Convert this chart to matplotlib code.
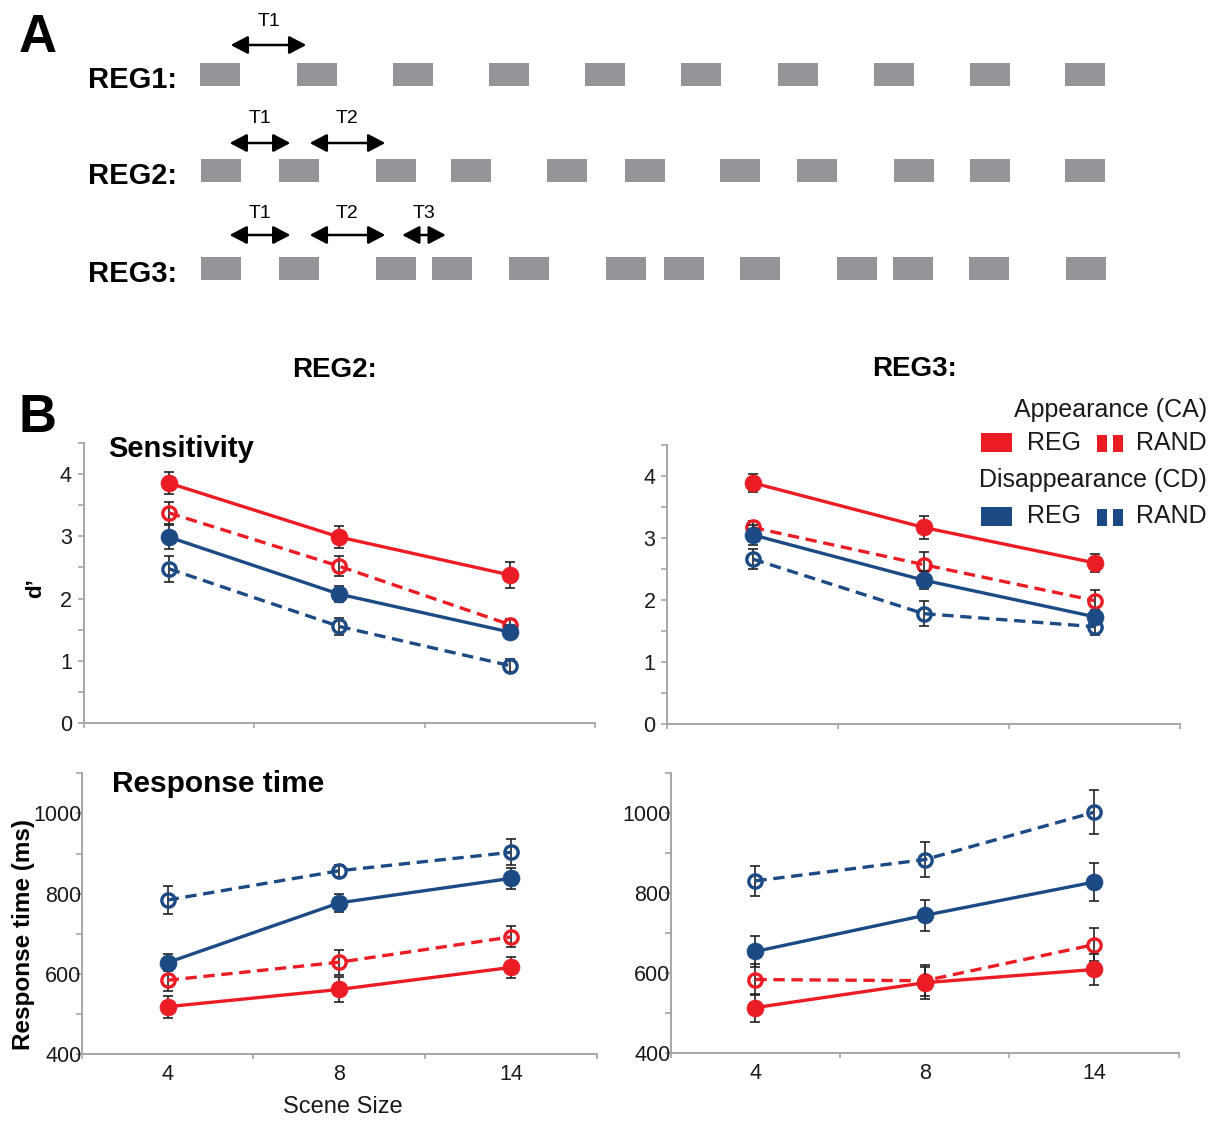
import numpy as np
import matplotlib
matplotlib.use("Agg")
import matplotlib.pyplot as plt
from matplotlib.patches import Rectangle

# ---------------- data ----------------
categories = ["4", "8", "14"]

# Sensitivity (d') REG2
s2_ca_reg = [3.86, 2.99, 2.38]
s2_ca_reg_err = [0.17, 0.18, 0.21]
s2_ca_rand = [3.38, 2.52, 1.58]
s2_ca_rand_err = [0.18, 0.16, 0.09]
s2_cd_reg = [2.99, 2.07, 1.46]
s2_cd_reg_err = [0.19, 0.13, 0.11]
s2_cd_rand = [2.48, 1.55, 0.92]
s2_cd_rand_err = [0.21, 0.14, 0.11]

# Sensitivity (d') REG3
s3_ca_reg = [3.89, 3.17, 2.60]
s3_ca_reg_err = [0.14, 0.19, 0.15]
s3_ca_rand = [3.17, 2.57, 1.99]
s3_ca_rand_err = [0.10, 0.21, 0.17]
s3_cd_reg = [3.05, 2.32, 1.73]
s3_cd_reg_err = [0.16, 0.14, 0.11]
s3_cd_rand = [2.66, 1.78, 1.57]
s3_cd_rand_err = [0.16, 0.20, 0.13]

# Response time (ms) REG2
r2_ca_reg = [518, 561, 616]
r2_ca_reg_err = [27, 32, 27]
r2_ca_rand = [584, 629, 692]
r2_ca_rand_err = [26, 31, 26]
r2_cd_reg = [628, 777, 838]
r2_cd_reg_err = [22, 23, 27]
r2_cd_rand = [784, 857, 903]
r2_cd_rand_err = [35, 15, 32]

# Response time (ms) REG3
r3_ca_reg = [514, 576, 609]
r3_ca_reg_err = [35, 40, 39]
r3_ca_rand = [584, 581, 671]
r3_ca_rand_err = [39, 38, 41]
r3_cd_reg = [654, 744, 827]
r3_cd_reg_err = [38, 39, 48]
r3_cd_rand = [830, 883, 1001]
r3_cd_rand_err = [37, 43, 55]

# Panel A: tone onsets (schematic time units)
reg1_onsets = [200, 297, 393, 489, 585, 681, 778, 874, 970, 1065]
reg2_onsets = [201, 279, 376, 451, 547, 625, 720, 797, 894, 970, 1065]
reg3_onsets = [201, 279, 376, 432, 509, 606, 664, 740, 837, 893, 969, 1066]
block_dur = 40
reg_labels = ["REG1:", "REG2:", "REG3:"]
interval_labels = ["T1", "T2", "T3"]

# ---------------- style ----------------
RED = "#ec1c24"
BLUE = "#1c4a84"
GRAY_BLOCK = "#939598"
AXIS_GRAY = "#a6a6a6"
TXT = "#1a1a1a"
SANS = ["Liberation Sans", "DejaVu Sans"]
plt.rcParams["font.family"] = SANS

W, H = 1220, 1126
fig = plt.figure(figsize=(W / 100, H / 100), dpi=100)

# overlay axes in pixel coordinates for schematic / annotations
ov = fig.add_axes([0, 0, 1, 1])
ov.set_xlim(0, W)
ov.set_ylim(H, 0)
ov.set_axis_off()

# ---------------- Panel A ----------------
ov.text(19, 52, "A", fontsize=38, fontweight="bold", va="baseline", ha="left")
rows = [reg1_onsets, reg2_onsets, reg3_onsets]
block_tops = [62.5, 158.5, 256.5]
block_h = 23
arrow_y = [45, 143, 235]
label_base = [26, 123, 218]
for r, onsets in enumerate(rows):
    ov.text(88, block_tops[r] + block_h + 2.5, reg_labels[r], fontsize=21,
            fontweight="bold", va="baseline", ha="left")
    for on in onsets:
        ov.add_patch(Rectangle((on, block_tops[r]), block_dur, block_h,
                               facecolor=GRAY_BLOCK, edgecolor="none"))
    for k in range(r + 1):
        c1 = onsets[k] + block_dur / 2
        c2 = onsets[k + 1] + block_dur / 2
        gap = c2 - c1
        a, b = c1 + 0.11 * gap, c2 - 0.11 * gap
        ov.annotate("", xy=(b, arrow_y[r]), xytext=(a, arrow_y[r]),
                    arrowprops=dict(arrowstyle="<|-|>,head_length=0.8,head_width=0.42",
                                    lw=1.8, color="black", shrinkA=0, shrinkB=0,
                                    mutation_scale=13))
        ov.text((a + b) / 2, label_base[r], interval_labels[k], fontsize=14,
                ha="center", va="baseline")

# ---------------- Panel B headers ----------------
ov.text(19, 432, "B", fontsize=38, fontweight="bold", va="baseline", ha="left")
ov.text(335, 377, "REG2:", fontsize=20, fontweight="bold", ha="center", va="baseline")
ov.text(914, 376, "REG3:", fontsize=20, fontweight="bold", ha="center", va="baseline")
ov.text(108, 457, "Sensitivity", fontsize=21, fontweight="bold", ha="left", va="baseline")
ov.text(112, 792, "Response time", fontsize=21.5, fontweight="bold", ha="left", va="baseline")
ov.text(36, 588, "d\u2019", fontsize=16, fontweight="bold", rotation=90,
        ha="center", va="center")
ov.text(24, 934, "Response time (ms)", fontsize=17.5, fontweight="bold", rotation=90,
        ha="center", va="center")
ov.text(343, 1113, "Scene Size", fontsize=17, ha="center", va="baseline", color=TXT)

# legend
ov.text(1207, 417, "Appearance (CA)", fontsize=18, ha="right", va="baseline", color=TXT)
ov.text(1207, 487, "Disappearance (CD)", fontsize=18, ha="right", va="baseline", color=TXT)
for col, ytop, base in [(RED, 433, 450), (BLUE, 507, 523)]:
    ov.add_patch(Rectangle((981, ytop), 31, 19, facecolor=col, edgecolor="none"))
    ov.text(1027, base, "REG", fontsize=18, ha="left", va="baseline", color=TXT)
    for xb in (1097, 1113):
        ov.add_patch(Rectangle((xb, ytop + 1.5), 10, 17.5, facecolor=col, edgecolor="none"))
    ov.text(1207, base, "RAND", fontsize=18, ha="right", va="baseline", color=TXT)

# ---------------- data axes ----------------
def px_axes(left, right, top, bottom):
    return fig.add_axes([left / W, (H - bottom) / H, (right - left) / W, (bottom - top) / H])

x = np.arange(len(categories))

def draw_series(ax, vals, errs, color, dashed, z):
    ax.errorbar(x, vals, yerr=errs, fmt="none", ecolor="#222222", elinewidth=1.2,
                capsize=3.4, capthick=1.2, zorder=z)
    if dashed:
        ax.plot(x, vals, color=color, lw=2.4, ls=(0, (3.4, 2.0)), marker="o", ms=9.6,
                mfc="none", mec=color, mew=2.4, zorder=z + 0.5)
    else:
        ax.plot(x, vals, color=color, lw=2.4, ls="-", marker="o", ms=12.2,
                mfc=color, mec=color, mew=0.5, zorder=z + 0.5)

def style_axes(ax, ylim, major, minor, bottom_labels, ylab_pad):
    ax.set_facecolor("none")
    for s in ("top", "right"):
        ax.spines[s].set_visible(False)
    for s in ("left", "bottom"):
        ax.spines[s].set_color(AXIS_GRAY)
        ax.spines[s].set_linewidth(1.4)
    ax.set_xlim(-0.5, len(categories) - 0.5)
    ax.set_ylim(*ylim)
    ax.set_yticks(major)
    ax.set_yticks(minor, minor=True)
    ax.set_xticks(x)
    ax.set_xticks(np.arange(-0.5, len(categories), 1.0), minor=True)
    ax.tick_params(axis="y", which="both", direction="out", length=4.5, width=1.2,
                   color=AXIS_GRAY, labelsize=15.5, labelcolor=TXT, pad=ylab_pad)
    ax.tick_params(axis="x", which="minor", direction="out", length=3.5, width=1.2,
                   color=AXIS_GRAY)
    ax.tick_params(axis="x", which="major", length=0, labelsize=15.5, labelcolor=TXT, pad=7)
    if bottom_labels:
        ax.set_xticklabels(categories)
    else:
        ax.set_xticklabels([])

sens_major = [0, 1, 2, 3, 4]
sens_minor = list(np.arange(0, 4.51, 0.5))
rt_major = [400, 600, 800, 1000]
rt_minor = list(range(400, 1101, 100))

ax_tl = px_axes(83.6, 595, 443.3, 722.7)
ax_tr = px_axes(667.4, 1180, 445, 724)
ax_bl = px_axes(81.7, 597, 773.3, 1054)
ax_br = px_axes(670.8, 1178.6, 772.6, 1053.3)

style_axes(ax_tl, (0, 4.5), sens_major, sens_minor, False, 4.0)
style_axes(ax_tr, (0, 4.5), sens_major, sens_minor, False, 4.0)
style_axes(ax_bl, (400, 1100), rt_major, rt_minor, True, -4.2)
style_axes(ax_br, (400, 1100), rt_major, rt_minor, True, -4.2)

panels = [
    (ax_tl, [(s2_ca_rand, s2_ca_rand_err, RED, True), (s2_ca_reg, s2_ca_reg_err, RED, False),
             (s2_cd_rand, s2_cd_rand_err, BLUE, True), (s2_cd_reg, s2_cd_reg_err, BLUE, False)]),
    (ax_tr, [(s3_ca_rand, s3_ca_rand_err, RED, True), (s3_ca_reg, s3_ca_reg_err, RED, False),
             (s3_cd_rand, s3_cd_rand_err, BLUE, True), (s3_cd_reg, s3_cd_reg_err, BLUE, False)]),
    (ax_bl, [(r2_ca_rand, r2_ca_rand_err, RED, True), (r2_ca_reg, r2_ca_reg_err, RED, False),
             (r2_cd_rand, r2_cd_rand_err, BLUE, True), (r2_cd_reg, r2_cd_reg_err, BLUE, False)]),
    (ax_br, [(r3_ca_rand, r3_ca_rand_err, RED, True), (r3_ca_reg, r3_ca_reg_err, RED, False),
             (r3_cd_rand, r3_cd_rand_err, BLUE, True), (r3_cd_reg, r3_cd_reg_err, BLUE, False)]),
]
for ax, series in panels:
    for i, (v, e, c, d) in enumerate(series):
        draw_series(ax, v, e, c, d, 2 + i)

fig.savefig("out.png", dpi=100, facecolor="white")
